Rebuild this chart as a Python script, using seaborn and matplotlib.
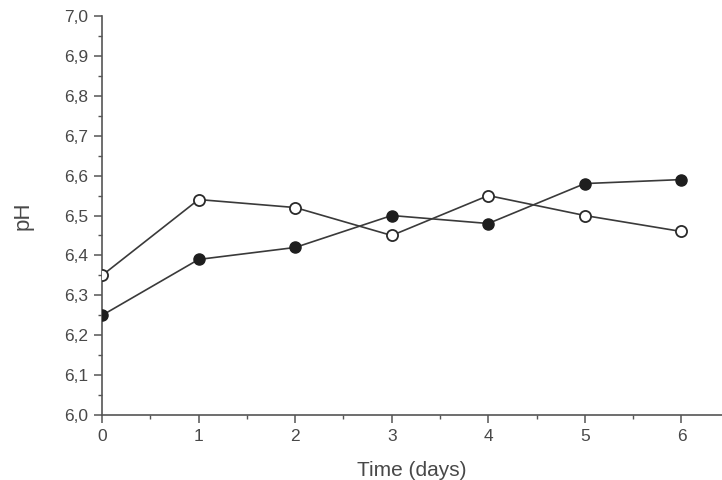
import matplotlib
matplotlib.use("Agg")
import matplotlib.pyplot as plt
import seaborn as sns
import pandas as pd
from matplotlib.ticker import MultipleLocator, FuncFormatter

days = [0, 1, 2, 3, 4, 5, 6]
ph_filled = [6.25, 6.39, 6.42, 6.50, 6.48, 6.58, 6.59]
ph_open = [6.35, 6.54, 6.52, 6.45, 6.55, 6.50, 6.46]

sns.set_style("ticks")
plt.rcParams['font.family'] = ['Liberation Sans', 'DejaVu Sans']

fig = plt.figure(figsize=(7.22, 4.8), dpi=100)
ax = fig.add_axes([0.1413, 0.135, 0.8587, 0.832])

df_f = pd.DataFrame({"day": days, "ph": ph_filled})
df_o = pd.DataFrame({"day": days, "ph": ph_open})
line_c = "#3a3a3a"
sns.lineplot(data=df_o, x="day", y="ph", ax=ax, color=line_c, lw=1.2,
             marker="o", markersize=8, markerfacecolor="white",
             markeredgecolor="#2a2a2a", markeredgewidth=1.3, zorder=3)
sns.lineplot(data=df_f, x="day", y="ph", ax=ax, color=line_c, lw=1.2,
             marker="o", markersize=8, markerfacecolor="#1e1e1e",
             markeredgecolor="#1e1e1e", markeredgewidth=1.0, zorder=4)

ax.set_xlim(0, 6.42)
ax.set_ylim(6.0, 7.0)
ax.xaxis.set_major_locator(MultipleLocator(1))
ax.xaxis.set_minor_locator(MultipleLocator(0.5))
ax.yaxis.set_major_locator(MultipleLocator(0.1))
ax.yaxis.set_minor_locator(MultipleLocator(0.05))
ax.yaxis.set_major_formatter(FuncFormatter(lambda v, p: f"{v:.1f}".replace(".", ",")))

axis_c = "#555555"
for s in ["top", "right"]:
    ax.spines[s].set_visible(False)
for s in ["left", "bottom"]:
    ax.spines[s].set_color(axis_c)
    ax.spines[s].set_linewidth(1.2)
ax.tick_params(which="major", direction="out", length=6, width=1.1, color=axis_c,
               labelsize=12.5, labelcolor="#484848", pad=4)
ax.tick_params(which="minor", direction="out", length=3, width=1.0, color=axis_c)

ax.set_xlabel("Time (days)", fontsize=15, color="#484848", labelpad=12)
ax.set_ylabel("pH", fontsize=16, color="#484848", labelpad=22)

fig.savefig("out.png", dpi=100)
